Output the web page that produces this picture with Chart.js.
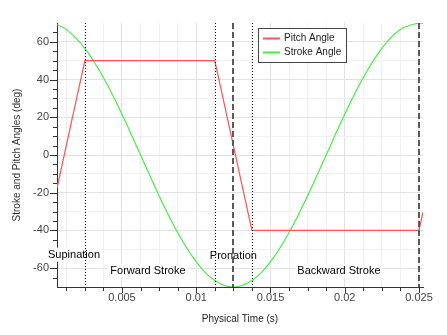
<!DOCTYPE html>
<html>
<head>
<meta charset="utf-8">
<script src="https://cdn.jsdelivr.net/npm/chart.js@4.4.1/dist/chart.umd.min.js"></script>
<style>
  html, body { margin: 0; padding: 0; background: #fff; }
  #wrap { width: 447px; height: 335px; position: relative; }
</style>
</head>
<body>
<div id="wrap"><canvas id="chart"></canvas></div>
<script>
// pitch angle: piecewise linear
const pitchTime = [0.000625, 0.0025, 0.01125, 0.01375, 0.025, 0.02527];
const pitchAngle = [-17.5, 50, 50, -40, -40, -30.3];

// stroke angle samples
const strokeTime = [0.000625, 0.00125, 0.0025, 0.00375, 0.005, 0.00625, 0.0075, 0.00875,
  0.01, 0.01125, 0.0125, 0.01375, 0.015, 0.01625, 0.0175, 0.01875, 0.02, 0.02125,
  0.0225, 0.02375, 0.025, 0.02527];
const strokeAngle = [69.1, 66.6, 56.6, 41.1, 21.6, 0, -21.6, -41.1,
  -56.6, -66.6, -70, -66.6, -56.6, -41.1, -21.6, 0, 21.6, 41.1,
  56.6, 66.6, 70, 69.8];

// axis ticks
const xTicks = [0.00125, 0.0025, 0.00375, 0.005, 0.00625, 0.0075, 0.00875, 0.01,
  0.01125, 0.0125, 0.01375, 0.015, 0.01625, 0.0175, 0.01875, 0.02, 0.02125, 0.0225,
  0.02375, 0.025];
const yTicks = [-65, -60, -55, -50, -45, -40, -35, -30, -25, -20, -15, -10, -5, 0,
  5, 10, 15, 20, 25, 30, 35, 40, 45, 50, 55, 60, 65];

// phase markers and labels
const dottedMarks = [0.0025, 0.01125, 0.01375];
const dashedMarks = [0.0125, 0.025];
const phaseNames = ['Supination', 'Forward Stroke', 'Pronation', 'Backward Stroke'];
const phaseX = [0.00177, 0.00675, 0.0125, 0.01961];
const phaseY = [-52.9, -61.4, -53.4, -61.4];

const FONT = "'Liberation Sans', Arial, sans-serif";
const isMult = (v, s) => Math.abs(v / s - Math.round(v / s)) < 1e-6;

const phasePlugin = {
  id: 'phases',
  beforeDatasetsDraw(chart) {
    const { ctx, scales: { x, y } } = chart;
    ctx.save();
    // tick marks
    ctx.strokeStyle = '#333';
    ctx.lineWidth = 1;
    ctx.beginPath();
    x.ticks.forEach(t => {
      const px = Math.round(x.getPixelForValue(t.value)) + 0.5;
      const len = isMult(t.value, 0.005) ? 6 : 4;
      ctx.moveTo(px, x.top);
      ctx.lineTo(px, x.top + len);
    });
    y.ticks.forEach(t => {
      const py = Math.round(y.getPixelForValue(t.value)) + 0.5;
      const len = isMult(t.value, 20) ? 7 : 4;
      ctx.moveTo(y.right, py);
      ctx.lineTo(y.right - len, py);
    });
    ctx.stroke();
    // phase labels
    ctx.font = '11px ' + FONT;
    ctx.textAlign = 'center';
    ctx.textBaseline = 'middle';
    phaseNames.forEach((name, i) => {
      const px = x.getPixelForValue(phaseX[i]);
      const py = y.getPixelForValue(phaseY[i]);
      const w = ctx.measureText(name).width;
      ctx.fillStyle = '#fff';
      ctx.fillRect(px - w / 2 - 2, py - 7, w + 4, 14);
      ctx.fillStyle = '#000';
      ctx.fillText(name, px, py);
    });
    ctx.restore();
  },
  afterDatasetsDraw(chart) {
    const { ctx, chartArea: a, scales: { x } } = chart;
    ctx.save();
    ctx.lineWidth = 1;
    ctx.strokeStyle = '#000';
    ctx.setLineDash([1, 2]);
    dottedMarks.forEach(v => {
      const px = Math.round(x.getPixelForValue(v)) + 0.5;
      ctx.beginPath();
      ctx.moveTo(px, a.top);
      ctx.lineTo(px, a.bottom);
      ctx.stroke();
    });
    ctx.lineWidth = 2;
    ctx.strokeStyle = '#5a5a5a';
    ctx.setLineDash([6, 3]);
    dashedMarks.forEach(v => {
      const px = Math.round(x.getPixelForValue(v));
      ctx.beginPath();
      ctx.moveTo(px, a.top);
      ctx.lineTo(px, a.bottom);
      ctx.stroke();
    });
    ctx.restore();
  },
  afterDraw(chart) {
    const { ctx } = chart;
    ctx.save();
    ctx.fillStyle = '#fff';
    ctx.fillRect(258, 28, 89, 35);
    ctx.strokeStyle = '#444';
    ctx.lineWidth = 1;
    ctx.strokeRect(258.5, 28.5, 88, 34);
    ctx.font = '10px ' + FONT;
    ctx.textAlign = 'left';
    ctx.textBaseline = 'middle';
    chart.data.datasets.forEach((ds, i) => {
      const ly = 38.5 + i * 14;
      ctx.strokeStyle = ds.borderColor;
      ctx.lineWidth = 2;
      ctx.beginPath();
      ctx.moveTo(263, ly);
      ctx.lineTo(280, ly);
      ctx.stroke();
      ctx.fillStyle = '#222';
      ctx.fillText(ds.label, 284, ly);
    });
    ctx.restore();
  }
};

new Chart(document.getElementById('chart'), {
  type: 'line',
  data: {
    datasets: [{
      label: 'Pitch Angle',
      data: pitchTime.map((t, i) => ({ x: t, y: pitchAngle[i] })),
      borderColor: '#ff5252',
      borderWidth: 1.2,
      pointRadius: 0,
      tension: 0,
    }, {
      label: 'Stroke Angle',
      data: strokeTime.map((t, i) => ({ x: t, y: strokeAngle[i] })),
      borderColor: '#44ee44',
      borderWidth: 1.2,
      pointRadius: 0,
      tension: 0.4,
    }],
  },
  options: {
    responsive: true,
    maintainAspectRatio: false,
    animation: false,
    layout: { padding: { left: 0, right: 24, top: 23, bottom: 0 } },
    plugins: { legend: { display: false }, tooltip: { enabled: false } },
    scales: {
      x: {
        type: 'linear',
        min: 0.000625,
        max: 0.02527,
        afterBuildTicks: (s) => { s.ticks = xTicks.map(v => ({ value: v })); },
        afterFit: (s) => { s.height = 48; },
        border: { color: '#333' },
        grid: {
          drawTicks: false,
          color: (c) => isMult(c.tick.value, 0.005) ? '#e2e2e2' : '#f1f1f1',
        },
        ticks: {
          autoSkip: false,
          maxRotation: 0,
          padding: 4,
          color: '#444',
          font: { family: FONT, size: 11 },
          callback: (v) => isMult(v, 0.005) ? String(+v.toFixed(3)) : '',
        },
        title: {
          display: true,
          text: 'Physical Time (s)',
          color: '#222',
          font: { family: FONT, size: 10 },
          padding: { top: 0, bottom: 10 },
        },
      },
      y: {
        min: -70,
        max: 70,
        afterBuildTicks: (s) => { s.ticks = yTicks.map(v => ({ value: v })); },
        afterFit: (s) => { s.width = 57; },
        border: { color: '#333' },
        grid: {
          drawTicks: false,
          color: (c) => isMult(c.tick.value, 20) ? '#e2e2e2'
            : (isMult(c.tick.value, 10) ? '#f1f1f1' : 'rgba(0,0,0,0)'),
        },
        ticks: {
          autoSkip: false,
          padding: 8,
          color: '#444',
          font: { family: FONT, size: 11 },
          callback: (v) => isMult(v, 20) ? String(v) : '',
        },
        title: {
          display: true,
          text: 'Stroke and Pitch Angles (deg)',
          color: '#333',
          font: { family: FONT, size: 10 },
          padding: { top: 11, bottom: 0 },
        },
      },
    },
  },
  plugins: [phasePlugin],
});
</script>
</body>
</html>
